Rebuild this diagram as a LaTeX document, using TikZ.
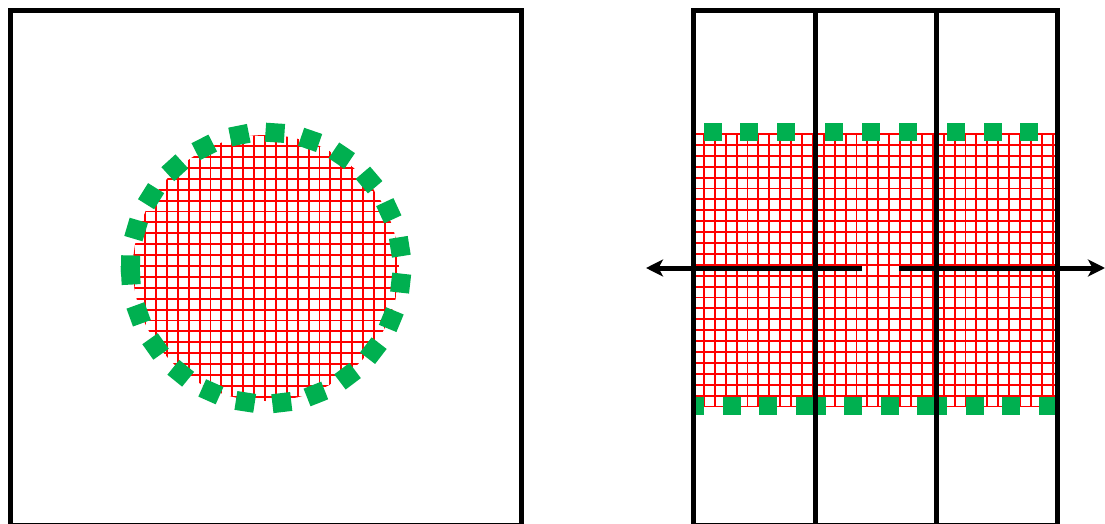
\documentclass[tikz,border=0pt]{standalone}
\usetikzlibrary{arrows.meta}
\definecolor{gridred}{HTML}{FF0000}
\definecolor{dashgreen}{HTML}{00B050}
\begin{document}
\begin{tikzpicture}[x=1pt,y=-1pt,
  frame/.style={line width=5pt, draw=black},
  gridline/.style={draw=gridred, line width=1.9pt},
  gsq/.style={fill=dashgreen},
  arrowline/.style={line width=5pt, draw=black, -{Stealth[length=17pt,width=17pt,inset=4.5pt]}}]
\useasboundingbox (0,0) rectangle (1105,524);
% ---------- left panel ----------
\coordinate (cc) at (266,268);
\begin{scope}
  \clip (cc) circle (133);
  \foreach \i in {-13,...,13} {
    \draw[gridline] ({265+10.9*\i},128) -- ({265+10.9*\i},410);
    \draw[gridline] (125,{266+10.9*\i}) -- (410,{266+10.9*\i});
  }
\end{scope}
\foreach \a in {181.3,196.5,212,227.7,242.9,258.7,273.8,289,304,319.5,335,351,6.4,22.4,37.6,53,68.4,83.3,98.8,114,129,144.6,160,177} {
  \fill[gsq] (cc) ++(\a:126) ++(\a+90:9.5) -- ++(\a:19) -- ++(\a-90:19) -- ++(\a+180:19) -- cycle;
}
\draw[frame] (10,10.5) rectangle (521.5,525.5);
% ---------- right panel ----------
\foreach \i in {0,...,33} {
  \draw[gridline] ({693+10.9*\i},133) -- ({693+10.9*\i},406.5);
}
\foreach \j in {0,...,25} {
  \draw[gridline] (693,{134+10.9*\j}) -- (1057,{134+10.9*\j});
}
\foreach \x in {712.5,749,786,834,871,907.5,955.5,992.5,1028.5} {
  \fill[gsq] ({\x-9},123) rectangle ({\x+9},141);
}
\foreach \l/\r in {695/704,723/741,759/777,796/826,844/862,880.5/898.5,917/947,966/984,1002/1020,1039/1056} {
  \fill[gsq] (\l,397) rectangle (\r,415);
}
\draw[frame] (693.5,10.5) rectangle (1057.5,525.5);
\coordinate (v1t) at (815,10.5);
\coordinate (v1b) at (815,526);
\coordinate (v2t) at (936,10.5);
\coordinate (v2b) at (936,526);
\draw[frame] (v1t) -- (v1b);
\draw[frame] (v2t) -- (v2b);
% ---------- arrows ----------
\coordinate (la) at (862,268);
\coordinate (lt) at (646,268);
\coordinate (ra) at (899,268);
\coordinate (rt) at (1105,268);
\draw[arrowline] (la) -- (lt);
\draw[arrowline] (ra) -- (rt);
\end{tikzpicture}
\end{document}
